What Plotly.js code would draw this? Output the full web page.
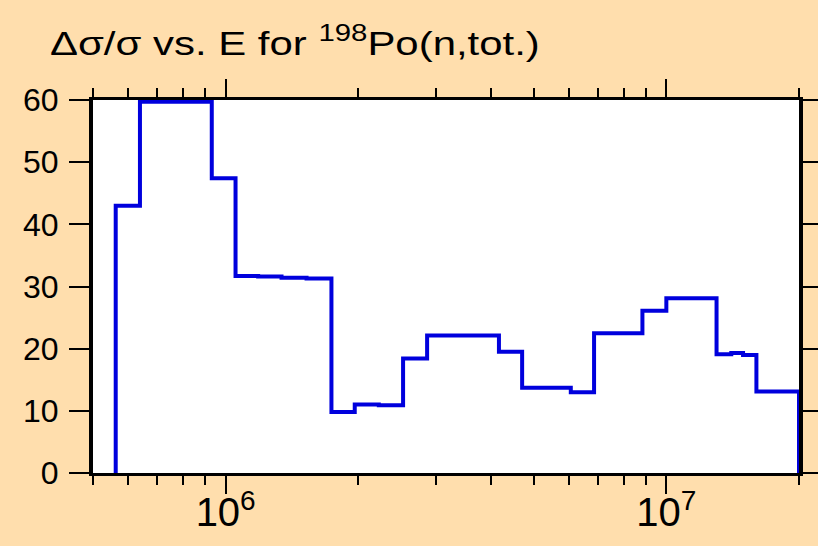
<!DOCTYPE html>
<html>
<head>
<meta charset="utf-8">
<script src="https://cdn.plot.ly/plotly-3.0.1.min.js"></script>
<style>
  html, body { margin: 0; padding: 0; background: #FFDEAD; }
  #chart { width: 818px; height: 546px; }
</style>
</head>
<body>
<div id="chart"></div>
<script>
// Energy bin edges (eV) and relative uncertainty values (%) per bin
const energyEdges = [5.63e5, 6.39e5, 9.3e5, 1.053e6, 1.185e6, 1.339e6, 1.526e6, 1.738e6,
  1.963e6, 2.226e6, 2.527e6, 2.865e6, 4.17e6, 4.707e6, 6.07e6, 6.855e6, 8.825e6,
  1.0e7, 1.3e7, 1.404e7, 1.493e7, 1.601e7, 2.0e7];
const uncertainty = [43, 59.7, 47.4, 31.7, 31.6, 31.4, 31.3, 9.8, 11.0, 10.9, 18.4, 22.1,
  19.5, 13.7, 13.0, 22.5, 26.1, 28.1, 19.1, 19.3, 19.0, 13.1];
const yTickVals = [0, 10, 20, 30, 40, 50, 60];
const titleText = 'Δσ/σ vs. E for <sup>198</sup>Po(n,tot.)';

// Build step outline (starting and ending on zero)
const xs = [energyEdges[0]];
const ys = [0];
for (let i = 0; i < uncertainty.length; i++) {
  xs.push(energyEdges[i]);
  ys.push(uncertainty[i]);
}
const last = energyEdges[energyEdges.length - 1];
xs.push(last); ys.push(uncertainty[uncertainty.length - 1]);
xs.push(last); ys.push(0);

const font = 'Liberation Sans, Arial, Helvetica, sans-serif';

const trace = {
  x: xs, y: ys, type: 'scatter', mode: 'lines',
  line: { shape: 'hv', color: '#0000dd', width: 4 },
  hoverinfo: 'skip'
};

const layout = {
  width: 818, height: 546,
  paper_bgcolor: '#FFDEAD', plot_bgcolor: '#FFFFFF',
  margin: { l: 93, r: 19, t: 100, b: 73, pad: 0 },
  showlegend: false,
  font: { family: font, color: '#000', size: 32 },
  title: {
    text: titleText,
    font: { family: font, size: 33, color: '#000' },
    xref: 'container', yref: 'container',
    x: 50 / 818, xanchor: 'left',
    y: 1 - 43 / 546, yanchor: 'middle'
  },
  xaxis: {
    type: 'log',
    range: [Math.log10(5e5), Math.log10(2e7)],
    dtick: 1,
    exponentformat: 'power',
    showexponent: 'all',
    ticks: 'outside', ticklen: 18, tickwidth: 2, tickcolor: '#000',
    ticklabelstandoff: -14,
    minor: { ticks: 'outside', ticklen: 9, tickwidth: 2, tickcolor: '#000', dtick: 'D1', showgrid: false },
    mirror: 'allticks',
    showline: true, linewidth: 3, linecolor: '#000',
    showgrid: false, zeroline: false,
    tickfont: { family: font, size: 32, color: '#000' }
  },
  yaxis: {
    range: [0, 60],
    tickvals: yTickVals,
    ticks: 'outside', ticklen: 20, tickwidth: 2, tickcolor: '#000',
    ticklabelstandoff: 4,
    mirror: 'allticks',
    showline: true, linewidth: 4, linecolor: '#000',
    showgrid: false, zeroline: false,
    tickfont: { family: font, size: 32, color: '#000' }
  }
};

Plotly.newPlot('chart', [trace], layout, { displayModeBar: false, staticPlot: true }).then(function (gd) {
  // The reference title is drawn in a horizontally wider face; stretch it to the same span.
  const t = gd.querySelector('.g-gtitle text');
  if (t) {
    const bb = t.getBBox();
    const target = 490;
    const s = target / bb.width;
    const prev = t.getAttribute('transform') || '';
    t.setAttribute('transform', prev + ' translate(' + bb.x + ',0) scale(' + s + ',1) translate(' + (-bb.x) + ',0)');
  }
});
</script>
</body>
</html>
